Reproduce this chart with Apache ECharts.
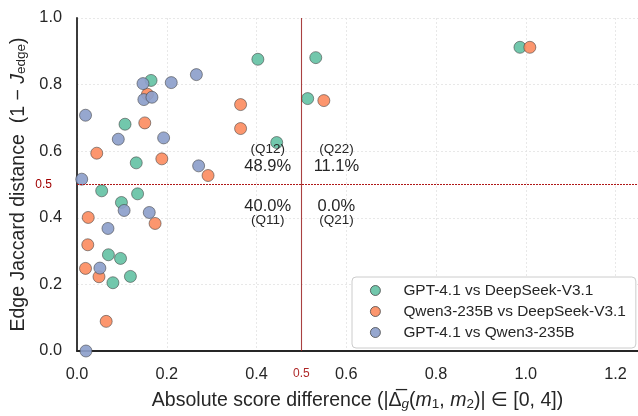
<!DOCTYPE html>
<html>
<head>
<meta charset="utf-8">
<script src="https://cdn.jsdelivr.net/npm/echarts@6/dist/echarts.min.js"></script>
<style>html,body{margin:0;padding:0;background:#fff;}#c{width:638px;height:416px;}</style>
</head>
<body>
<div id="c"></div>
<script>
// ---- data ----
const seriesNames = ['GPT-4.1 vs DeepSeek-V3.1', 'Qwen3-235B vs DeepSeek-V3.1', 'GPT-4.1 vs Qwen3-235B'];
const gptDsX = [0.403, 0.532, 0.514, 0.445, 0.165, 0.107, 0.132, 0.055, 0.135, 0.099, 0.070, 0.097, 0.119, 0.080, 0.987];
const gptDsY = [0.876, 0.881, 0.758, 0.626, 0.8125, 0.681, 0.565, 0.481, 0.472, 0.446, 0.289, 0.278, 0.224, 0.205, 0.912];
const qwenDsX = [1.009, 0.550, 0.3645, 0.3645, 0.157, 0.151, 0.044, 0.189, 0.292, 0.025, 0.174, 0.024, 0.019, 0.049, 0.065];
const qwenDsY = [0.912, 0.752, 0.740, 0.668, 0.771, 0.685, 0.594, 0.577, 0.527, 0.401, 0.383, 0.319, 0.248, 0.223, 0.089];
const gptQwenX = [0.266, 0.147, 0.210, 0.149, 0.167, 0.019, 0.092, 0.193, 0.271, 0.0105, 0.105, 0.161, 0.069, 0.051, 0.020];
const gptQwenY = [0.830, 0.803, 0.806, 0.755, 0.762, 0.708, 0.636, 0.640, 0.556, 0.516, 0.422, 0.416, 0.368, 0.249, 0.0];
const threshold = 0.5;
const quadLabels = ['(Q12)', '48.9%', '(Q22)', '11.1%', '40.0%', '(Q11)', '0.0%', '(Q21)'];
const quadX = [0.425, 0.425, 0.578, 0.578, 0.425, 0.425, 0.578, 0.578];
const quadY = [0.607, 0.554, 0.607, 0.554, 0.435, 0.394, 0.435, 0.394];
const quadIsPct = [false, true, false, true, true, false, true, false];

const colors = ['#66c2a5', '#fc8d62', '#8da0cb'];
const FONT = '"Liberation Sans", Arial, "DejaVu Sans", sans-serif';
const TXT = '#262626';
const RED = '#b01818';

function zip(xs, ys) { return xs.map((x, i) => [x, ys[i]]); }

const chart = echarts.init(document.getElementById('c'), null, { renderer: 'canvas' });

const pointSeries = [zip(gptDsX, gptDsY), zip(qwenDsX, qwenDsY), zip(gptQwenX, gptQwenY)].map((d, i) => ({
  name: seriesNames[i],
  type: 'scatter',
  data: d,
  symbol: 'circle',
  symbolSize: 12,
  z: 3,
  itemStyle: { color: colors[i], borderColor: '#3a3a3a', borderWidth: 0.6, opacity: 0.92 }
}));

// vertical threshold line (solid)
pointSeries[0].markLine = {
  silent: true,
  symbol: ['none', 'none'],
  lineStyle: { color: '#9a2020', width: 1.1, type: 'solid', opacity: 0.85 },
  label: { show: true, position: 'start', formatter: '0.5', color: '#a00000', fontSize: 12, fontFamily: FONT, distance: 17 },
  emphasis: { disabled: true },
  data: [{ xAxis: threshold }]
};
// horizontal threshold line (dotted)
pointSeries[1].markLine = {
  silent: true,
  symbol: ['none', 'none'],
  lineStyle: { color: RED, width: 1.1, type: [2, 1], opacity: 1 },
  label: { show: true, position: 'start', formatter: '0.5', color: '#a00000', fontSize: 12, fontFamily: FONT, distance: 25 },
  emphasis: { disabled: true },
  data: [{ yAxis: threshold }]
};

const quadSeries = {
  name: 'quadrants',
  type: 'scatter',
  silent: true,
  symbolSize: 0,
  z: 4,
  itemStyle: { opacity: 1 },
  data: quadLabels.map((t, i) => ({
    value: [quadX[i], quadY[i]],
    label: {
      show: true, position: [0, 0], align: 'center', verticalAlign: 'middle', formatter: t,
      fontSize: quadIsPct[i] ? 16.5 : 13.5,
      color: TXT, fontFamily: FONT, textBorderWidth: 0, opacity: 1
    }
  }))
};

const axisTick = v => v.toFixed(1);

chart.setOption({
  backgroundColor: '#ffffff',
  animation: false,
  textStyle: { fontFamily: FONT },
  grid: { left: 77, right: 0, top: 18, bottom: 62, containLabel: false },
  legend: {
    data: seriesNames,
    orient: 'vertical',
    left: 352,
    top: 277,
    padding: [6, 10, 8, 18],
    itemGap: 6,
    itemWidth: 46,
    itemHeight: 10,
    backgroundColor: '#ffffff',
    borderColor: '#cccccc',
    borderWidth: 1,
    borderRadius: 4,
    icon: 'circle',
    itemStyle: { borderColor: '#3a3a3a', borderWidth: 0.8 },
    textStyle: { fontSize: 15.4, color: TXT, fontFamily: FONT, lineHeight: 14 }
  },
  xAxis: {
    type: 'value',
    min: 0, max: 1.25, interval: 0.2,
    name: '{t|Absolute score difference (|}{t|Δ̅}{isub|g}{t|(}{i|m}{sub|1}{t|, }{i|m}{sub|2}{t|)| ∈ [0, 4])}',
    nameLocation: 'middle',
    nameGap: 40,
    nameTextStyle: {
      color: TXT, fontFamily: FONT, fontSize: 19.5,
      rich: {
        t: { fontSize: 19.5, color: TXT, fontFamily: FONT },
        i: { fontSize: 19.5, fontStyle: 'italic', color: TXT, fontFamily: FONT },
        sub: { fontSize: 13.5, color: TXT, fontFamily: FONT, verticalAlign: 'bottom', lineHeight: 19 },
        isub: { fontSize: 13.5, fontStyle: 'italic', color: TXT, fontFamily: FONT, verticalAlign: 'bottom', lineHeight: 19 }
      }
    },
    axisLine: { show: true, onZero: false, lineStyle: { color: TXT, width: 1.8 } },
    axisTick: { show: false },
    axisLabel: { showMaxLabel: false, formatter: axisTick, fontSize: 16.3, color: TXT, margin: 16, fontFamily: FONT },
    splitLine: { show: true, lineStyle: { color: '#e3e3e3', width: 0.8, type: [2, 2] } }
  },
  yAxis: {
    type: 'value',
    min: 0, max: 1, interval: 0.2,
    name: '{t|Edge Jaccard distance  (1 − }{i|J}{sub|edge}{t|)}',
    nameLocation: 'middle',
    nameGap: 45,
    nameTextStyle: {
      color: TXT, fontFamily: FONT, fontSize: 19.5,
      rich: {
        t: { fontSize: 19.5, color: TXT, fontFamily: FONT },
        i: { fontSize: 19.5, fontStyle: 'italic', color: TXT, fontFamily: FONT },
        sub: { fontSize: 13.5, color: TXT, fontFamily: FONT, verticalAlign: 'bottom', lineHeight: 19 }
      }
    },
    axisLine: { show: true, onZero: false, lineStyle: { color: TXT, width: 1.8 } },
    axisTick: { show: false },
    axisLabel: { formatter: axisTick, fontSize: 16.3, color: TXT, margin: 15, fontFamily: FONT },
    splitLine: { show: true, lineStyle: { color: '#e3e3e3', width: 0.8, type: [2, 2] } }
  },
  series: pointSeries.concat([quadSeries])
});
</script>
</body>
</html>
